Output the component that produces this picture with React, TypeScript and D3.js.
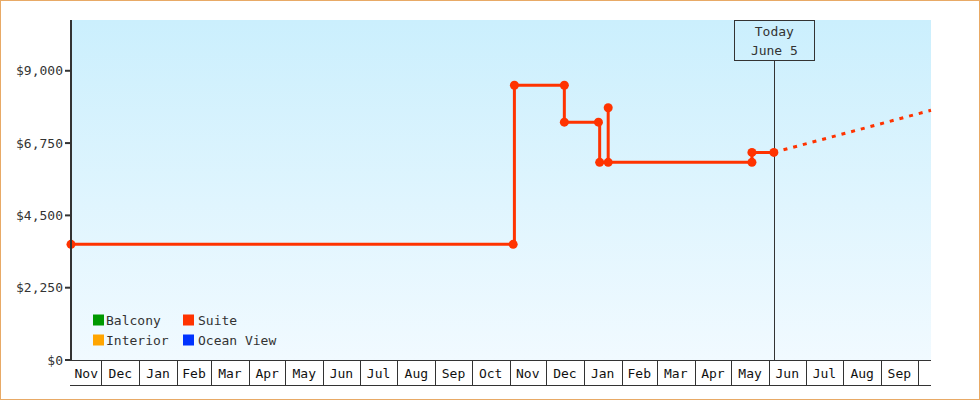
import React from "react";
import * as d3 from "d3";

const W = 980;
const H = 400;
const margin = { left: 71, right: 49, top: 20, bottom: 40 };

const domainStart = "2022-11-06";
const domainEnd = "2024-10-12";
const todayDate = "2024-06-05";
const todayLabel = ["Today", "June 5"];

const monthLabels = ["Jan", "Feb", "Mar", "Apr", "May", "Jun", "Jul", "Aug", "Sep", "Oct", "Nov", "Dec"];

const yTickValues = [0, 2250, 4500, 6750, 9000];
const yTickLabels = ["$0", "$2,250", "$4,500", "$6,750", "$9,000"];
const yMax = 10580;

// Suite price history
const suiteDates = [
  "2022-11-06", "2023-11-04", "2023-11-05", "2023-12-16", "2023-12-16",
  "2024-01-13", "2024-01-14", "2024-01-21", "2024-01-21", "2024-05-18",
  "2024-05-18", "2024-06-05",
];
const suitePrices = [3600, 3600, 8550, 8550, 7400, 7400, 6150, 7850, 6150, 6150, 6460, 6460];

// Forecast
const forecastDates = ["2024-06-05", "2024-10-12"];
const forecastPrices = [6460, 7770];

const legendNames = ["Balcony", "Suite", "Interior", "Ocean View"];
const legendColors = ["#009900", "#ff3300", "#ffa500", "#0033ff"];

const FONT = "'DejaVu Sans Mono', monospace";

export default function App() {
  const parse = d3.timeParse("%Y-%m-%d");
  const x0 = margin.left;
  const x1 = W - margin.right;
  const y0 = H - margin.bottom;
  const y1 = margin.top;
  const start = parse(domainStart)!;
  const end = parse(domainEnd)!;
  const x = d3.scaleTime().domain([start, end]).range([x0, x1]);
  const y = d3.scaleLinear().domain([0, yMax]).range([y0, y1]);

  const suite = suiteDates.map((d, i) => ({ d: parse(d)!, v: suitePrices[i] }));
  const forecast = forecastDates.map((d, i) => ({ d: parse(d)!, v: forecastPrices[i] }));

  const stepLine = d3
    .line<{ d: Date; v: number }>()
    .x((p) => x(p.d))
    .y((p) => y(p.v))
    .curve(d3.curveStepAfter);
  const straight = d3
    .line<{ d: Date; v: number }>()
    .x((p) => x(p.d))
    .y((p) => y(p.v));

  // month cells
  const monthStarts = d3.timeMonth.range(d3.timeMonth.floor(start), end);
  const bounds = monthStarts.map((m) => (m < start ? start : m));
  const cells = bounds.map((b, i) => {
    const nxt = i + 1 < bounds.length ? bounds[i + 1] : end;
    return { a: x(b), b: x(nxt), m: monthStarts[i], i };
  });

  const today = parse(todayDate)!;
  const tx = x(today);

  const cellTop = y0;
  const cellBottom = y0 + 25;

  return (
    <div>
      <style>{`body{margin:0}`}</style>
      <svg width={W} height={H} style={{ display: "block" }}>
        <defs>
          <linearGradient id="bg" x1="0" y1="0" x2="0" y2="1">
            <stop offset="0" stopColor="#cbeffd" />
            <stop offset="1" stopColor="#f1faff" />
          </linearGradient>
        </defs>
        <rect x={0} y={0} width={W} height={H} fill="#ffffff" />
        <rect x={0.5} y={0.5} width={W - 1} height={H - 1} fill="none" stroke="#e8aa66" strokeWidth={1} />
        <rect x={x0} y={y1} width={x1 - x0} height={y0 - y1} fill="url(#bg)" />

        {/* month cells */}
        <line x1={x0 - 1} x2={x1} y1={cellTop + 0.5} y2={cellTop + 0.5} stroke="#333" strokeWidth={1} />
        <line x1={x0 - 1} x2={x1} y1={cellBottom + 0.5} y2={cellBottom + 0.5} stroke="#333" strokeWidth={1} />
        {cells.map((c) => (
          <g key={c.i}>
            {c.i > 0 && (
              <line x1={Math.round(c.a) + 0.5} x2={Math.round(c.a) + 0.5} y1={cellTop} y2={cellBottom} stroke="#333" strokeWidth={1} />
            )}
            {c.b - c.a > 20 && (
              <text
                x={(c.a + c.b) / 2}
                y={cellTop + 18}
                textAnchor="middle"
                fontFamily={FONT}
                fontSize={13}
                fill="#111"
              >
                {monthLabels[c.m.getMonth()]}
              </text>
            )}
          </g>
        ))}

        {/* legend */}
        {legendNames.map((n, i) => {
          const col = i % 2;
          const row = Math.floor(i / 2);
          const lx = 93 + col * 90;
          const ly = 314.5 + row * 20;
          return (
            <g key={n}>
              <rect x={lx} y={ly} width={11} height={11} fill={legendColors[i]} />
              <text x={lx + 13 + col * 2} y={ly + 10.5} fontFamily={FONT} fontSize={13} fill="#333">
                {n}
              </text>
            </g>
          );
        })}

        {/* today marker */}
        <line x1={Math.round(tx) + 0.5} x2={Math.round(tx) + 0.5} y1={61} y2={y0} stroke="#333" strokeWidth={1} />
        <rect x={Math.round(tx) - 39.5} y={20.5} width={80} height={40} fill="none" stroke="#333" strokeWidth={1} />
        <text x={tx + 0.5} y={36} textAnchor="middle" fontFamily={FONT} fontSize={13} fill="#333">
          {todayLabel[0]}
        </text>
        <text x={tx + 0.5} y={54.5} textAnchor="middle" fontFamily={FONT} fontSize={13} fill="#333">
          {todayLabel[1]}
        </text>

        {/* series */}
        <g>
          <path d={straight(forecast) ?? ""} fill="none" stroke="#ff3300" strokeWidth={3} strokeDasharray="4 6" />
          <path d={stepLine(suite) ?? ""} fill="none" stroke="#ff3300" strokeWidth={3} />
          {suite.map((p, i) => (
            <circle key={i} cx={x(p.d)} cy={y(p.v)} r={4.5} fill="#ff3300" />
          ))}
        </g>

        {/* y axis */}
        <line x1={x0} x2={x0} y1={y1} y2={y0 + 1} stroke="#333" strokeWidth={2} />
        {yTickValues.map((v, i) => (
          <g key={v}>
            <line x1={x0 - 6} x2={x0} y1={y(v)} y2={y(v)} stroke="#333" strokeWidth={2} />
            <text
              x={x0 - 8}
              y={y(v) + 4.5}
              textAnchor="end"
              fontFamily={FONT}
              fontSize={13}
              fill="#333"
            >
              {yTickLabels[i]}
            </text>
          </g>
        ))}
      </svg>
    </div>
  );
}
